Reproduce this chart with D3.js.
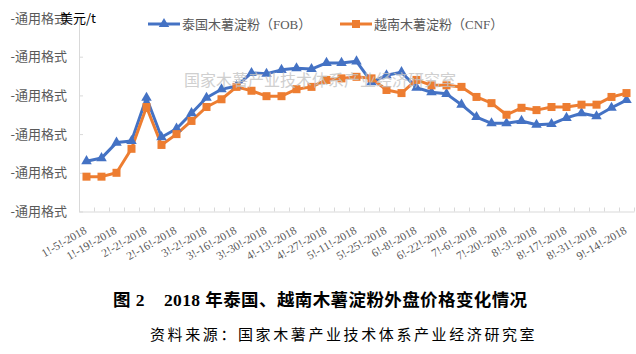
<!DOCTYPE html>
<html>
<head>
<meta charset="utf-8">
<script src="https://cdn.jsdelivr.net/npm/d3@7"></script>
<style>
  body { margin: 0; background: #fff; }
  svg { display: block; }
</style>
</head>
<body>
<div id="chart"></div>
<script>
// weekly dates, Jan 5 to Sep 14 2018
const dates = ["1-5", "1-12", "1-19", "1-26", "2-2", "2-9", "2-16", "2-23", "3-2", "3-9",
    "3-16", "3-23", "3-30", "4-6", "4-13", "4-20", "4-27", "5-4", "5-11", "5-18",
    "5-25", "6-1", "6-8", "6-15", "6-22", "6-29", "7-6", "7-13", "7-20", "7-27",
    "8-3", "8-10", "8-17", "8-24", "8-31", "9-7", "9-14"];

// 泰国木薯淀粉（FOB）
const thaiFob = [365, 369, 389, 391, 447, 396, 407, 427, 447, 458,
    462, 479, 478, 483, 485, 484, 492, 492, 494, 467,
    476, 480, 460, 454, 452, 438, 422, 414, 414, 417,
    412, 413, 421, 427, 423, 434, 444];

// 越南木薯淀粉（CNF）
const vietCnf = [345, 345, 350, 381, 435, 386, 400, 417, 435, 445,
    461, 456, 449, 449, 458, 461, 470, 472, 474, 472,
    457, 453, 470, 463, 463, 461, 448, 440, 425, 434,
    431, 435, 435, 438, 438, 448, 453];

const yTicks = [300, 350, 400, 450, 500, 550];

const seriesNames = ["泰国木薯淀粉（FOB）", "越南木薯淀粉（CNF）"];
const colors = ["#4472C4", "#ED7D31"];

const W = 636, H = 354;
const plot = { left: 79, right: 634, top: 18, bottom: 211.5 };

const svg = d3.select("#chart").append("svg")
    .attr("width", W)
    .attr("height", H);

const x = d3.scaleBand()
    .domain(dates)
    .range([plot.left, plot.right])
    .padding(0);

const xIdx = d3.scaleLinear()
    .domain([0, dates.length])
    .range([plot.left, plot.right]);

const y = d3.scaleLinear()
    .domain([300, 550])
    .range([plot.bottom, plot.top]);

const cx = d => x(d) + x.bandwidth() / 2;

// y axis
const yAxis = svg.append("g")
    .attr("transform", "translate(" + plot.left + ",0)")
    .call(d3.axisLeft(y).tickValues(yTicks).tickSizeInner(-4).tickSizeOuter(0).tickPadding(12)
        .tickFormat(() => "-通用格式"));
yAxis.select(".domain").attr("stroke", "#d9d9d9");
yAxis.selectAll(".tick line").attr("stroke", "#d9d9d9");
yAxis.selectAll(".tick text")
    .attr("fill", "#595959")
    .style("font-family", "'Noto Sans CJK SC', sans-serif")
    .style("font-size", "13px");

// x axis ticks at category boundaries
const xAxis = svg.append("g")
    .attr("transform", "translate(0," + plot.bottom + ")")
    .call(d3.axisBottom(xIdx).tickValues(d3.range(dates.length + 1)).tickSizeInner(-4).tickSizeOuter(0)
        .tickFormat(""));
xAxis.select(".domain").attr("stroke", "#d9d9d9");
xAxis.selectAll(".tick line").attr("stroke", "#d9d9d9");

// x labels, every other week
const labelDates = dates.filter((d, i) => i % 2 === 0);
svg.append("g")
    .selectAll("text")
    .data(labelDates)
    .enter().append("text")
    .attr("transform", d => "translate(" + (cx(d) + 1) + "," + (plot.bottom + 21) + ") rotate(-30)")
    .attr("text-anchor", "end")
    .attr("fill", "#595959")
    .style("font-family", "'Liberation Serif', serif")
    .style("font-size", "11.5px")
    .text(d => d.split("-").join("!-") + "!-2018");

// lines
const line = d3.line()
    .x((d, i) => cx(dates[i]))
    .y(d => y(d));

[thaiFob, vietCnf].forEach((vals, s) => {
    svg.append("path")
        .datum(vals)
        .attr("fill", "none")
        .attr("stroke", colors[s])
        .attr("stroke-width", 3)
        .attr("stroke-linejoin", "round")
        .attr("d", line);
});

// markers
const tri = d3.symbol().type(d3.symbolTriangle).size(48);
svg.append("g")
    .selectAll("path")
    .data(thaiFob)
    .enter().append("path")
    .attr("d", tri)
    .attr("transform", (d, i) => "translate(" + cx(dates[i]) + "," + y(d) + ")")
    .attr("fill", colors[0]);

svg.append("g")
    .selectAll("rect")
    .data(vietCnf)
    .enter().append("rect")
    .attr("x", (d, i) => cx(dates[i]) - 4)
    .attr("y", d => y(d) - 4)
    .attr("width", 8)
    .attr("height", 8)
    .attr("fill", colors[1]);

// legend
const legendX = [148, 340];
seriesNames.forEach((name, s) => {
    const g = svg.append("g").attr("transform", "translate(" + legendX[s] + ",24)");
    g.append("line")
        .attr("x1", 0).attr("x2", 32)
        .attr("stroke", colors[s]).attr("stroke-width", 3);
    if (s === 0) {
        g.append("path").attr("d", tri).attr("transform", "translate(16,0)").attr("fill", colors[s]);
    } else {
        g.append("rect").attr("x", 12).attr("y", -4).attr("width", 8).attr("height", 8).attr("fill", colors[s]);
    }
    g.append("text")
        .attr("x", 34)
        .attr("dy", "0.35em")
        .attr("fill", "#595959")
        .style("font-family", "'Liberation Serif', 'Noto Sans CJK SC', serif")
        .style("font-size", "13px")
        .text(name);
});

// unit (overlaps the top tick label, as in the source)
svg.append("text")
    .attr("x", 60)
    .attr("y", 18)
    .attr("dy", "0.35em")
    .attr("fill", "#000")
    .style("font-family", "'Noto Sans CJK SC', sans-serif")
    .style("font-size", "13px")
    .text("美元/t");

// watermark
svg.append("text")
    .attr("x", 184)
    .attr("y", 80)
    .attr("dy", "0.35em")
    .attr("fill", "#c4c4c4")
    .attr("opacity", 0.8)
    .style("font-family", "'Noto Sans CJK SC', sans-serif")
    .style("font-size", "16px")
    .text("国家木薯产业技术体系产业经济研究室");

// caption
svg.append("text")
    .attr("x", 113)
    .attr("y", 300)
    .attr("dy", "0.35em")
    .attr("fill", "#000")
    .style("font-family", "'Liberation Serif', 'Noto Sans CJK SC', serif")
    .style("font-size", "17.5px")
    .style("letter-spacing", "0.4px")
    .style("font-weight", "bold")
    .text("图 2\u00a0\u00a0\u00a0\u00a02018 年泰国、越南木薯淀粉外盘价格变化情况");

svg.append("text")
    .attr("x", 150)
    .attr("y", 335)
    .attr("dy", "0.35em")
    .attr("fill", "#000")
    .style("font-family", "'Noto Sans CJK SC', sans-serif")
    .style("font-size", "15px")
    .style("letter-spacing", "2.6px")
    .text("资料来源：国家木薯产业技术体系产业经济研究室");
</script>
</body>
</html>
